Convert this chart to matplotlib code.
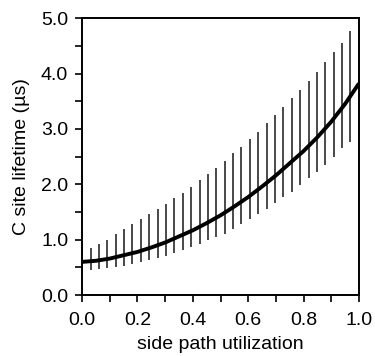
import numpy as np
import matplotlib
matplotlib.use("Agg")
from matplotlib import pyplot as plt
from matplotlib.ticker import MultipleLocator, FormatStrFormatter

# mean lifetime curve
curve_x = [0.0, 0.05, 0.1, 0.15, 0.2, 0.25, 0.3, 0.35, 0.4, 0.45, 0.5,
           0.55, 0.6, 0.65, 0.7, 0.75, 0.8, 0.85, 0.9, 0.95, 1.0]
curve_y = [0.60, 0.62, 0.66, 0.72, 0.78, 0.86, 0.95, 1.06, 1.17, 1.30, 1.44,
           1.60, 1.77, 1.96, 2.16, 2.38, 2.60, 2.85, 3.13, 3.45, 3.82]

# spread bars, 34 positions from 0 to 1
bar_x = np.linspace(0, 1, 34)
bar_lo = [0.45, 0.46, 0.48, 0.49, 0.51, 0.53, 0.57, 0.60, 0.63, 0.67, 0.70, 0.76,
          0.82, 0.87, 0.93, 0.99, 1.05, 1.11, 1.20, 1.29, 1.38, 1.47, 1.56,
          1.67, 1.77, 1.86, 1.99, 2.11, 2.23, 2.35, 2.50, 2.65, 2.77, 2.89]
bar_hi = [0.79, 0.85, 0.93, 1.00, 1.10, 1.19, 1.28, 1.37, 1.46, 1.55, 1.65, 1.75,
          1.85, 1.95, 2.08, 2.18, 2.30, 2.42, 2.56, 2.68, 2.81, 2.95, 3.10,
          3.25, 3.40, 3.55, 3.71, 3.87, 4.03, 4.21, 4.39, 4.56, 4.77, 4.97]

plt.rcParams['font.family'] = ['Liberation Sans', 'DejaVu Sans']

fig = plt.figure(figsize=(3.75, 3.56), dpi=100)
ax = fig.add_axes([0.219, 0.171, 0.738, 0.778])

ax.vlines(bar_x, bar_lo, bar_hi, color='#3a3a3a', lw=1.3, zorder=2)
ax.plot(curve_x, curve_y, color='black', lw=2.8, solid_capstyle='butt', zorder=3)

ax.set_xlim(0, 1)
ax.set_ylim(0, 5)
ax.xaxis.set_major_locator(MultipleLocator(0.2))
ax.xaxis.set_minor_locator(MultipleLocator(0.1))
ax.yaxis.set_major_locator(MultipleLocator(1.0))
ax.yaxis.set_minor_locator(MultipleLocator(0.5))
ax.xaxis.set_major_formatter(FormatStrFormatter('%.1f'))
ax.yaxis.set_major_formatter(FormatStrFormatter('%.1f'))
ax.tick_params(which='both', direction='out', length=5, width=1.2, top=False, right=False)
ax.tick_params(axis='x', which='major', labelsize=14, pad=7)
ax.tick_params(axis='y', which='major', labelsize=14, pad=5)
for s in ax.spines.values():
    s.set_linewidth(1.4)

ax.set_xlabel('side path utilization', fontsize=14)
ax.set_ylabel('C site lifetime (µs)', fontsize=14)
ax.xaxis.set_label_coords(0.5, -0.148)
ax.yaxis.set_label_coords(-0.19, 0.5)

fig.savefig('out.png', dpi=100)
